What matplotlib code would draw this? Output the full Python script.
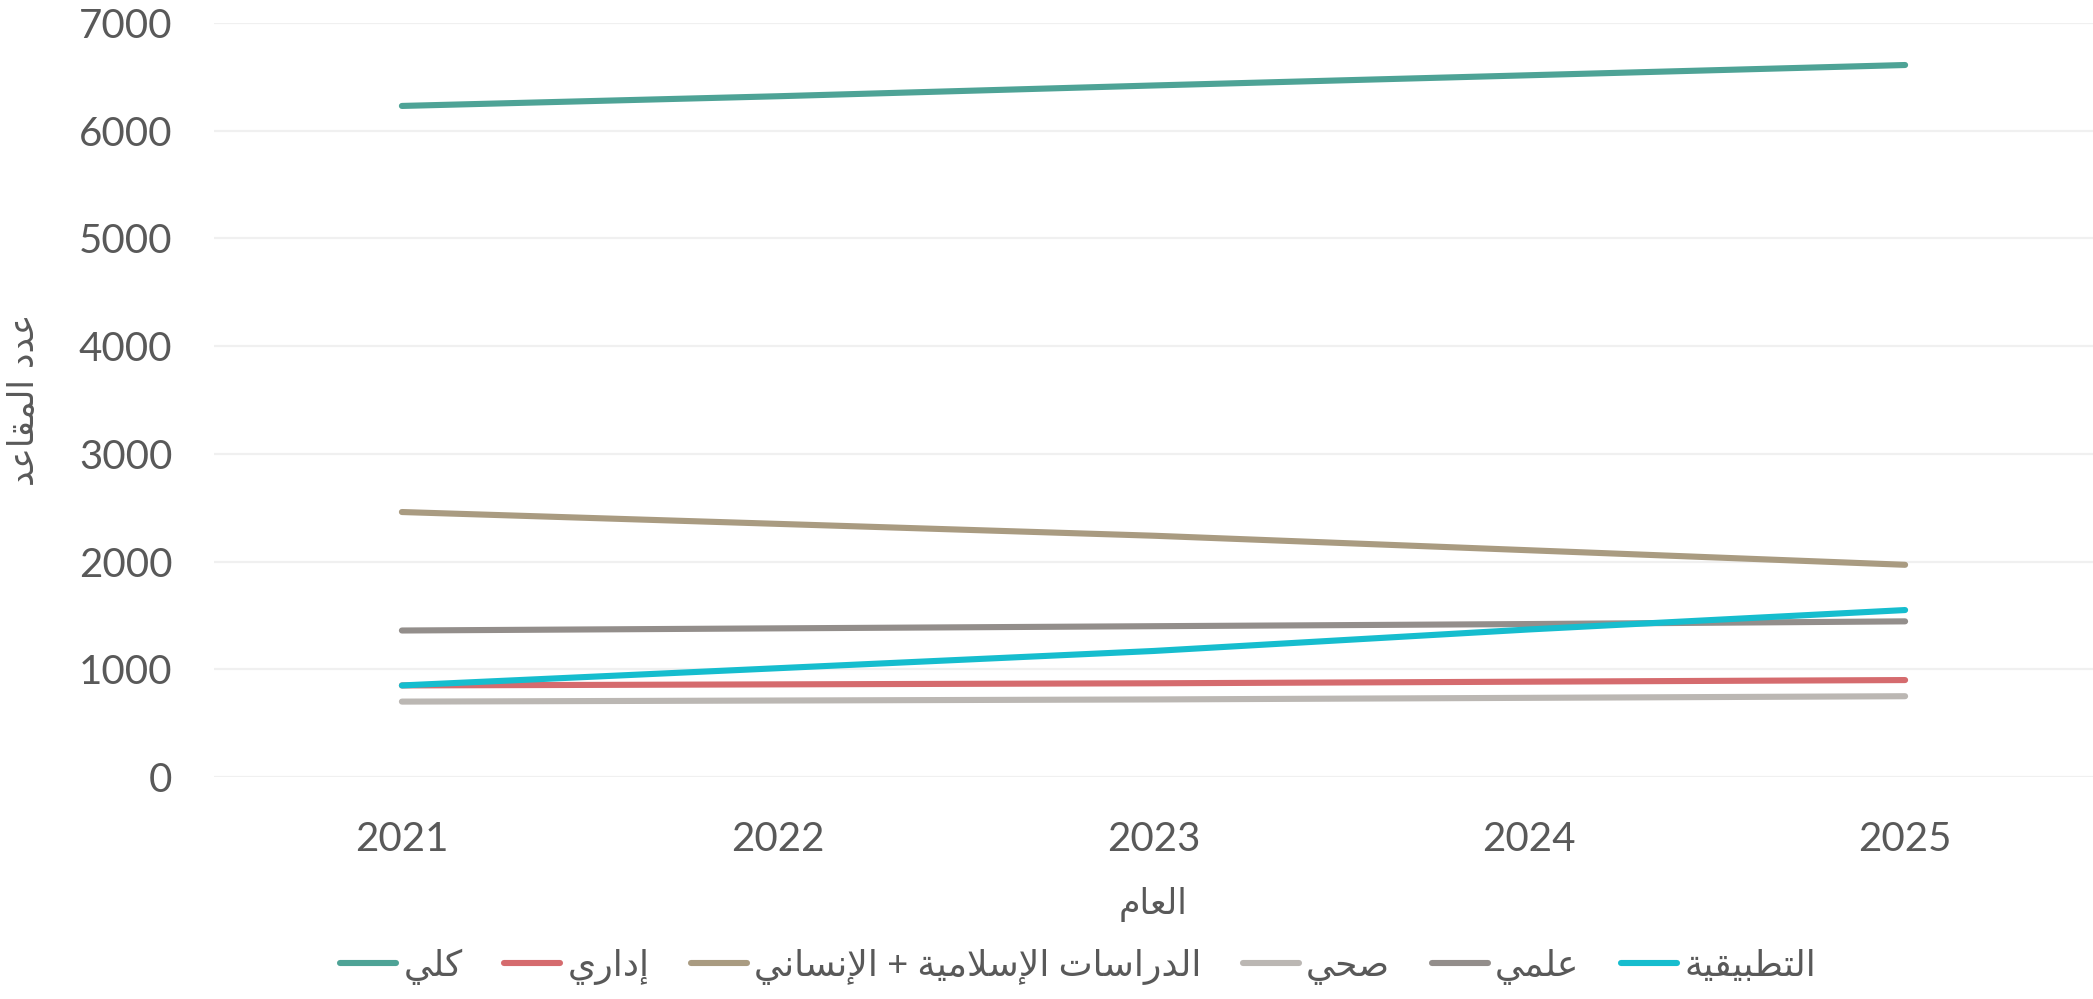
import matplotlib
matplotlib.use("Agg")
import matplotlib.pyplot as plt

# ---------------- data ----------------
years = ["2021", "2022", "2023", "2024", "2025"]
series_names = ["كلي", "إداري", "الدراسات الإسلامية + الإنساني", "صحي", "علمي", "التطبيقية"]
kolli = [6230, 6320, 6420, 6515, 6610]
idari = [850, 860, 870, 885, 900]
islamic_humanities = [2460, 2350, 2240, 2105, 1970]
sihhi = [700, 710, 720, 735, 750]
ilmi = [1360, 1380, 1400, 1420, 1445]
tatbiqiya = [850, 1010, 1170, 1370, 1550]
x_title = "العام"
y_title = "عدد المقاعد"
y_ticks = [0, 1000, 2000, 3000, 4000, 5000, 6000, 7000]

colors = ["#4EA396", "#D56B6E", "#A99B81", "#BBB7B3", "#938E8B", "#16BDCE"]

# ------------- minimal Arabic shaping (visual order + presentation forms) -------------
FORMS = {
    "ا": ("\uFE8D", "\uFE8E", None, None),
    "إ": ("\uFE87", "\uFE88", None, None),
    "أ": ("\uFE83", "\uFE84", None, None),
    "ب": ("\uFE8F", "\uFE90", "\uFE91", "\uFE92"),
    "ة": ("\uFE93", "\uFE94", None, None),
    "ت": ("\uFE95", "\uFE96", "\uFE97", "\uFE98"),
    "ح": ("\uFEA1", "\uFEA2", "\uFEA3", "\uFEA4"),
    "د": ("\uFEA9", "\uFEAA", None, None),
    "ر": ("\uFEAD", "\uFEAE", None, None),
    "س": ("\uFEB1", "\uFEB2", "\uFEB3", "\uFEB4"),
    "ص": ("\uFEB9", "\uFEBA", "\uFEBB", "\uFEBC"),
    "ط": ("\uFEC1", "\uFEC2", "\uFEC3", "\uFEC4"),
    "ع": ("\uFEC9", "\uFECA", "\uFECB", "\uFECC"),
    "ق": ("\uFED5", "\uFED6", "\uFED7", "\uFED8"),
    "ك": ("\uFED9", "\uFEDA", "\uFEDB", "\uFEDC"),
    "ل": ("\uFEDD", "\uFEDE", "\uFEDF", "\uFEE0"),
    "م": ("\uFEE1", "\uFEE2", "\uFEE3", "\uFEE4"),
    "ن": ("\uFEE5", "\uFEE6", "\uFEE7", "\uFEE8"),
    "ي": ("\uFEF1", "\uFEF2", "\uFEF3", "\uFEF4"),
}
LAMALEF = {"ا": ("\uFEFB", "\uFEFC"), "إ": ("\uFEF9", "\uFEFA"), "أ": ("\uFEF7", "\uFEF8")}


def dual(c):
    return c in FORMS and FORMS[c][2] is not None


def shape(text):
    units = []
    i = 0
    while i < len(text):
        c = text[i]
        if c == "ل" and i + 1 < len(text) and text[i + 1] in LAMALEF:
            units.append(("LA", text[i + 1]))
            i += 2
        else:
            units.append(("C", c))
            i += 1
    out = []
    for k, (kind, c) in enumerate(units):
        prev = units[k - 1] if k > 0 else None
        nxt = units[k + 1] if k + 1 < len(units) else None
        prev_joins = prev is not None and prev[0] == "C" and dual(prev[1])
        if kind == "LA":
            out.append(LAMALEF[c][1] if prev_joins else LAMALEF[c][0])
            continue
        if c not in FORMS:
            out.append(c)
            continue
        next_arabic = nxt is not None and (nxt[0] == "LA" or nxt[1] in FORMS)
        joins_next = dual(c) and next_arabic
        iso, fin, ini, med = FORMS[c]
        if prev_joins and joins_next:
            out.append(med)
        elif prev_joins:
            out.append(fin)
        elif joins_next:
            out.append(ini)
        else:
            out.append(iso)
    return "".join(out)[::-1]


# ---------------- plot ----------------
plt.rcParams["font.family"] = ["Lato", "DejaVu Sans"]
text_color = "#595959"

fig = plt.figure(figsize=(20.93, 9.99), dpi=100)
ax = fig.add_axes([214 / 2093, 1 - 777 / 999, 1 - 214 / 2093, (777 - 23) / 999])

all_series = [kolli, idari, islamic_humanities, sihhi, ilmi, tatbiqiya]
xs = list(range(len(years)))
for name, vals, col in zip(series_names, all_series, colors):
    ax.plot(xs, vals, color=col, lw=4.4, solid_capstyle="round", label=shape(name))

ax.set_xlim(-0.5, len(years) - 0.5)
ax.set_ylim(0, 7000)
ax.set_yticks(y_ticks)
ax.set_yticklabels([str(v) for v in y_ticks])
ax.set_xticks(xs)
ax.set_xticklabels(years)
ax.tick_params(axis="both", length=0, labelsize=29, labelcolor=text_color)
ax.tick_params(axis="y", pad=30)
ax.tick_params(axis="x", pad=32)
ax.grid(axis="y", color="#F0F0F0", lw=1.6)
ax.set_axisbelow(True)
for s in ax.spines.values():
    s.set_visible(False)

fig.text(1153 / 2093, 1 - 904 / 999, shape(x_title), ha="center", va="center",
         fontsize=25, color=text_color, family=["DejaVu Sans"])
fig.text(24 / 2093, 1 - 400 / 999, shape(y_title), ha="center", va="center",
         rotation=90, fontsize=25, color=text_color, family=["DejaVu Sans"])

leg = fig.legend(loc="center", bbox_to_anchor=(1078 / 2093, 1 - 967 / 999), ncol=6,
                 frameon=False, fontsize=26, handlelength=1.55, handletextpad=0.2,
                 columnspacing=1.15, labelcolor=text_color)
for h in leg.get_lines():
    h.set_linewidth(4.4)
    h.set_solid_capstyle("round")

fig.savefig("out.png", dpi=100)
